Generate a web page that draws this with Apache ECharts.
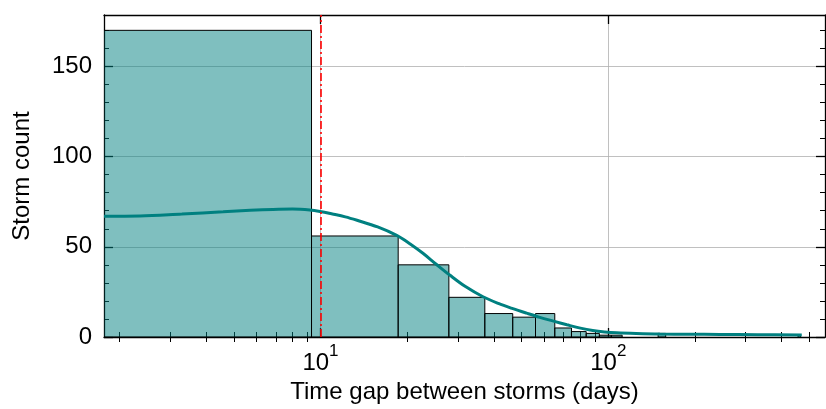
<!DOCTYPE html>
<html>
<head>
<meta charset="utf-8">
<script src="https://cdn.jsdelivr.net/npm/echarts@6/dist/echarts.min.js"></script>
<style>
html,body{margin:0;padding:0;background:#fff;}
#chart{width:826px;height:409px;}
</style>
</head>
<body>
<div id="chart"></div>
<script>
// ---- data ----
const histRange = [0, 465.5];          // histogram range (days), 50 equal bins
const histCounts = [170, 56, 40, 22, 13, 11, 13, 5, 3, 2,
                    1, 1, 0, 0, 0, 0, 2, 0, 0, 0,
                    0, 0, 0, 0, 0, 0, 0, 0, 0, 0,
                    0, 0, 0, 0, 0, 0, 0, 0, 0, 0,
                    0, 0, 0, 0, 0, 0, 0, 0, 0, 1];
const kdeDays   = [1.77, 2.36, 3.3, 4.59, 5.7, 6.84, 8.0, 9.19, 9.96, 11.0, 12.2, 13.4, 15.8, 18.4, 20.5, 22.7, 25.3, 28.2, 32.0, 36.7, 41.5, 46.6, 52.0, 57.8, 64.5, 71.8, 80.0, 88.3, 97.0, 107, 125, 151, 190, 244, 330, 470];
const kdeCounts = [67.0, 67.1, 68.2, 69.4, 70.2, 70.7, 70.9, 70.4, 69.6, 68.2, 66.6, 64.7, 61.0, 56.3, 51.6, 46.4, 40.2, 34.2, 27.8, 22.3, 18.6, 15.7, 13.2, 10.9, 8.8, 6.8, 4.9, 3.6, 2.8, 2.3, 1.9, 1.6, 1.5, 1.45, 1.3, 1.1];
const thresholdDays = 10;
const xAxisRangeDays = [1.77, 566];
const yAxisRange = [0, 178.5];
const xMajorTickDays = [10, 100];
const xMajorTickLabels = ['10|1', '10|2'];
const xMinorTickDays = [2,3,4,5,6,7,8,9,20,30,40,50,60,70,80,90,200,300,400,500];
const yMajorTicks = [0, 50, 100, 150];
const yMinorTicks = [10,20,30,40,60,70,80,90,110,120,130,140,160,170];

// ---- build ----
const L = v => Math.log10(v);
const xMin = L(xAxisRangeDays[0]), xMax = L(xAxisRangeDays[1]);
const nb = histCounts.length;
const bw = (histRange[1] - histRange[0]) / nb;
const bins = histCounts.map((c, i) => [histRange[0] + i * bw, histRange[0] + (i + 1) * bw, c]).filter(b => b[2] > 0);

const FONT = 'Liberation Sans';
const FS = 24;
const inRange = v => v >= xMin && v <= xMax;
const xMajor = xMajorTickDays.map(L);
const xMinor = xMinorTickDays.map(L).filter(inRange);
const labelMap = {};
xMajorTickDays.forEach((d, i) => { labelMap[L(d).toFixed(4)] = xMajorTickLabels[i]; });

function xAxisBase(extra) {
  return Object.assign({
    type: 'value', min: xMin, max: xMax, gridIndex: 0,
    axisLine: {show: false}, axisLabel: {show: false},
    axisTick: {show: false}, splitLine: {show: false}
  }, extra);
}
function yAxisBase(extra) {
  return Object.assign({
    type: 'value', min: yAxisRange[0], max: yAxisRange[1], gridIndex: 0,
    axisLine: {show: false}, axisLabel: {show: false},
    axisTick: {show: false}, splitLine: {show: false}
  }, extra);
}
const lineBlack = {show: true, onZero: false, lineStyle: {color: '#000', width: 1.3}};
const tickMajor = (vals) => ({show: true, inside: true, length: 9, customValues: vals, lineStyle: {color: '#000', width: 1.3}});
const tickMinor = (vals) => ({show: true, inside: true, length: 5, customValues: vals, lineStyle: {color: '#000', width: 1}});

const chart = echarts.init(document.getElementById('chart'), null, {renderer: 'canvas'});
chart.setOption({
  animation: false,
  backgroundColor: '#fff',
  textStyle: {fontFamily: FONT},
  grid: {left: 104, right: 1, top: 15, bottom: 72, containLabel: false},
  xAxis: [
    xAxisBase({
      position: 'bottom',
      axisLine: lineBlack,
      axisTick: tickMajor(xMajor),
      splitLine: {show: true, lineStyle: {color: '#b0b0b0', width: 0.8}},
      axisLabel: {
        show: true, customValues: xMajor, margin: 6,
        formatter: v => {
          const s = labelMap[v.toFixed(4)] || '';
          const p = s.split('|');
          return '{b|' + p[0] + '}{s|' + (p[1] || '') + '}';
        },
        rich: {
          b: {fontSize: FS, fontFamily: FONT, color: '#000', lineHeight: 32, verticalAlign: 'bottom'},
          s: {fontSize: 17, fontFamily: FONT, color: '#000', lineHeight: 17, verticalAlign: 'top'}
        }
      },
      name: 'Time gap between storms (days)',
      nameLocation: 'middle', nameGap: 42,
      nameTextStyle: {fontSize: FS, fontFamily: FONT, color: '#000'}
    }),
    xAxisBase({position: 'bottom', axisTick: tickMinor(xMinor)}),
    xAxisBase({position: 'top', axisLine: lineBlack, axisTick: tickMajor(xMajor)}),
    xAxisBase({position: 'top', axisTick: tickMinor(xMinor)})
  ],
  yAxis: [
    yAxisBase({
      position: 'left',
      axisLine: lineBlack,
      axisTick: tickMajor(yMajorTicks),
      splitLine: {show: true, lineStyle: {color: '#b0b0b0', width: 0.8}},
      axisLabel: {show: true, customValues: yMajorTicks, margin: 12, fontSize: FS, fontFamily: FONT, color: '#000'},
      name: 'Storm count', nameLocation: 'middle', nameGap: 70, nameRotate: 90,
      nameTextStyle: {fontSize: FS, fontFamily: FONT, color: '#000'}
    }),
    yAxisBase({position: 'left', axisTick: tickMinor(yMinorTicks)}),
    yAxisBase({position: 'right', axisLine: lineBlack, axisTick: tickMajor(yMajorTicks)}),
    yAxisBase({position: 'right', axisTick: tickMinor(yMinorTicks)})
  ],
  series: [
    {
      type: 'custom',
      xAxisIndex: 0, yAxisIndex: 0,
      clip: true,
      data: bins,
      renderItem: function (params, api) {
        const x0 = Math.max(api.value(0) > 0 ? L(api.value(0)) : xMin, xMin);
        const x1 = L(api.value(1));
        const c = api.value(2);
        const p0 = api.coord([x0, c]);
        const p1 = api.coord([x1, 0]);
        return {
          type: 'rect',
          shape: {x: p0[0], y: p0[1], width: p1[0] - p0[0], height: p1[1] - p0[1]},
          style: {fill: 'rgba(0,128,128,0.5)', stroke: '#000', lineWidth: 1}
        };
      },
      z: 2
    },
    {
      type: 'line',
      xAxisIndex: 0, yAxisIndex: 0,
      data: kdeDays.map((d, i) => [L(d), kdeCounts[i]]),
      smooth: 0.35,
      showSymbol: false,
      clip: true,
      lineStyle: {color: '#008080', width: 3},
      itemStyle: {color: '#008080'},
      z: 3,
      markLine: {
        silent: true, symbol: 'none',
        label: {show: false},
        lineStyle: {color: '#ff0000', width: 1.6, type: [8, 3, 2, 3]},
        data: [{xAxis: L(thresholdDays)}],
        z: 4
      }
    }
  ]
});
</script>
</body>
</html>
